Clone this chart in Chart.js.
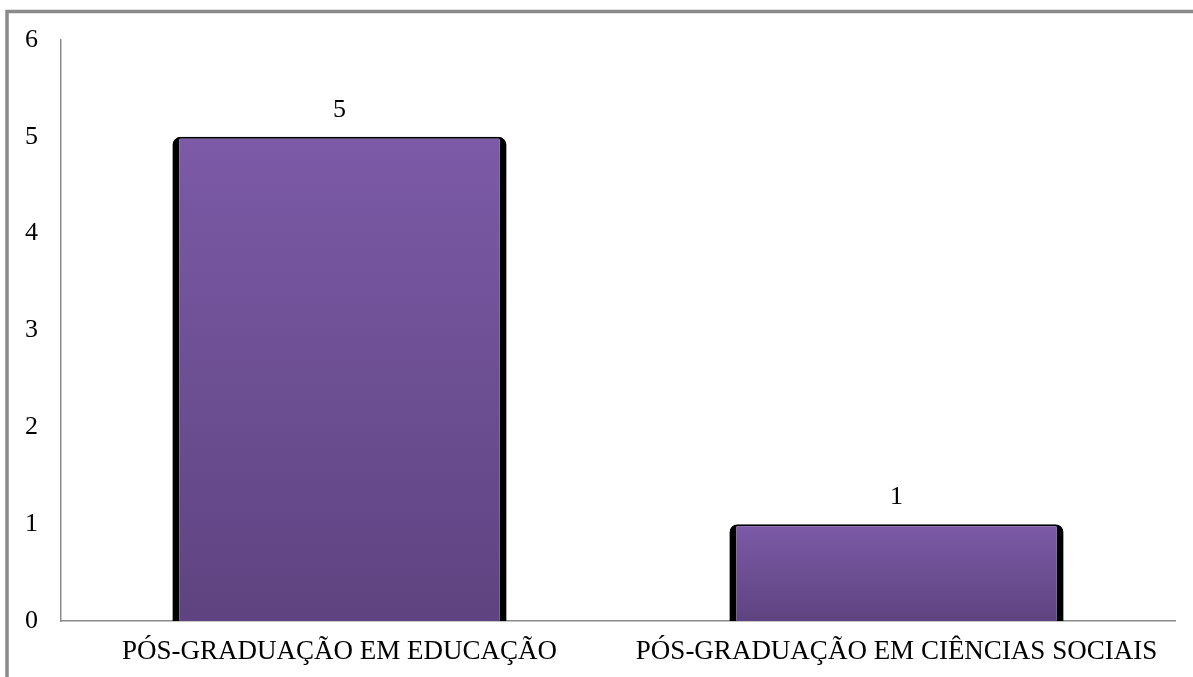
<!DOCTYPE html>
<html>
<head>
<meta charset="utf-8">
<title>Pós-graduação</title>
<script src="https://cdn.jsdelivr.net/npm/chart.js@4/dist/chart.umd.min.js"></script>
<style>
  html, body { margin: 0; padding: 0; background: #fff; overflow: hidden; }
  canvas { display: block; }
</style>
</head>
<body>
<canvas id="c" width="1193" height="677"></canvas>
<script>
// Categories and counts
const categories = ['PÓS-GRADUAÇÃO EM EDUCAÇÃO', 'PÓS-GRADUAÇÃO EM CIÊNCIAS SOCIAIS'];
const counts = [5, 1];
const yTicks = [0, 1, 2, 3, 4, 5, 6];

const FONT = '"Liberation Serif", "Times New Roman", serif';

// Outer gray frame around the chart
const framePlugin = {
  id: 'frame',
  beforeDraw(chart) {
    const ctx = chart.ctx;
    ctx.save();
    ctx.strokeStyle = '#8a8a8a';
    ctx.lineWidth = 3.5;
    ctx.strokeRect(7, 11.5, chart.width + 20, chart.height + 20);
    ctx.restore();
  }
};

// Value labels above each bar
const valueLabels = {
  id: 'valueLabels',
  afterDatasetsDraw(chart) {
    const ctx = chart.ctx;
    ctx.save();
    ctx.font = '26px ' + FONT;
    ctx.fillStyle = '#000';
    ctx.textAlign = 'center';
    ctx.textBaseline = 'middle';
    chart.getDatasetMeta(0).data.forEach((bar, i) => {
      ctx.fillText(String(counts[i]), bar.x, bar.y - 27);
    });
    ctx.restore();
  }
};

// Vertical purple gradient, per bar, from its top down to the baseline
function barGradient(context) {
  const chart = context.chart;
  const area = chart.chartArea;
  if (!area || !chart.scales.y) return '#6d4e93';
  const y = chart.scales.y;
  const top = y.getPixelForValue(context.raw);
  const bottom = y.getPixelForValue(0);
  const g = chart.ctx.createLinearGradient(0, top, 0, bottom);
  g.addColorStop(0, '#7c5aa7');
  g.addColorStop(1, '#5e4380');
  return g;
}

new Chart(document.getElementById('c'), {
  type: 'bar',
  data: {
    labels: categories,
    datasets: [{
      data: counts,
      backgroundColor: barGradient,
      borderColor: '#000',
      borderWidth: { left: 7, right: 7, top: 2, bottom: 0 },
      borderRadius: { topLeft: 8, topRight: 8, bottomLeft: 0, bottomRight: 0 },
      borderSkipped: 'start',
      categoryPercentage: 1.0,
      barPercentage: 0.6
    }]
  },
  options: {
    responsive: false,
    animation: false,
    devicePixelRatio: 1,
    layout: { padding: { left: 0, top: 40, right: 18, bottom: 0 } },
    plugins: {
      legend: { display: false },
      tooltip: { enabled: false }
    },
    scales: {
      x: {
        grid: { display: false, drawTicks: false },
        border: { display: true, color: '#8c8c8c', width: 1.5 },
        ticks: {
          color: '#000',
          font: { family: FONT, size: 27 },
          padding: 15,
          maxRotation: 0,
          autoSkip: false
        },
        afterFit(scale) { scale.height = 56; }
      },
      y: {
        min: 0,
        max: 6,
        grid: { display: false, drawTicks: false },
        border: { display: true, color: '#8c8c8c', width: 1.5 },
        afterBuildTicks(scale) { scale.ticks = yTicks.map(v => ({ value: v })); },
        ticks: {
          color: '#000',
          font: { family: FONT, size: 26 },
          padding: 23
        },
        afterFit(scale) { scale.width = 61; }
      }
    }
  },
  plugins: [framePlugin, valueLabels]
});
</script>
</body>
</html>
